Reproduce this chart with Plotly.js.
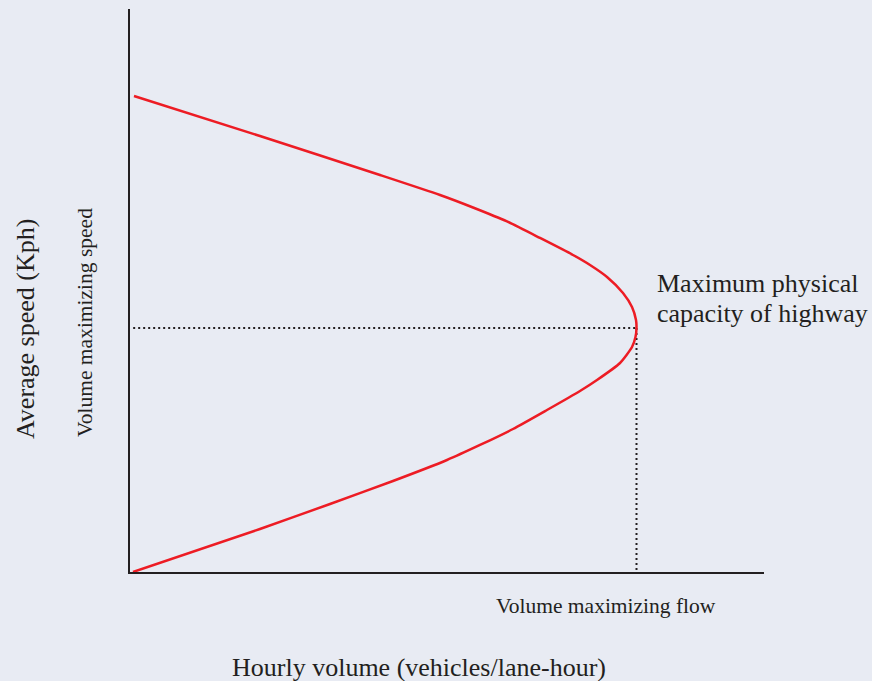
<!DOCTYPE html>
<html>
<head>
<meta charset="utf-8">
<script src="https://cdn.plot.ly/plotly-3.0.1.min.js"></script>
<style>
html,body{margin:0;padding:0;background:#e8ebf3;}
#chart{width:872px;height:681px;}
</style>
</head>
<body>
<div id="chart"></div>
<script>
// Speed-flow curve (volume on x, speed on y)
const volume = [0.63, 20.50, 39.43, 48.90, 54.10, 59.46, 64.67, 69.87, 72.56, 75.24, 77.76, 79.18, 79.81, 79.89,
                79.73, 79.18, 77.29, 73.66, 70.98, 65.77, 60.41, 55.21, 50.00, 41.48, 31.55, 20.50, 0.47];
const speed  = [84.55, 77.44, 70.52, 66.96, 64.74, 62.26, 59.33, 56.31, 54.53, 52.40, 49.56, 47.06, 44.76, 43.34,
                41.74, 39.96, 37.12, 34.10, 32.15, 28.77, 25.40, 22.56, 19.89, 16.16, 12.08, 7.64, 0.0];

// Capacity point (vertex)
const capVolume = 79.89;
const capSpeed = 43.34;
const guideStartVolume = 0.5;

const labels = {
  yTitle: "Average speed (Kph)",
  ySub: "Volume maximizing speed",
  xTitle: "Hourly volume (vehicles/lane-hour)",
  xSub: "Volume maximizing flow",
  cap1: "Maximum physical",
  cap2: "capacity of highway"
};

const ink = "#231f20";
const font = "Liberation Serif, DejaVu Serif, serif";

const traces = [
  {
    x: [guideStartVolume, capVolume], y: [capSpeed, capSpeed],
    mode: "lines", line: {color: ink, width: 2, dash: "2px,3px"},
    hoverinfo: "skip", cliponaxis: false
  },
  {
    x: [capVolume, capVolume], y: [capSpeed, 0],
    mode: "lines", line: {color: ink, width: 2, dash: "2px,3px"},
    hoverinfo: "skip", cliponaxis: false
  },
  {
    x: volume, y: speed,
    mode: "lines", line: {color: "#ed1c24", width: 2.5, shape: "spline", smoothing: 0.6},
    cliponaxis: false
  }
];

const layout = {
  width: 872, height: 681,
  margin: {l: 130, r: 108, t: 9, b: 109},
  paper_bgcolor: "#e8ebf3",
  plot_bgcolor: "#e8ebf3",
  showlegend: false,
  xaxis: {range: [0, 100], showgrid: false, zeroline: false, showticklabels: false, ticks: "",
          showline: true, linecolor: ink, linewidth: 2, fixedrange: true},
  yaxis: {range: [0, 100], showgrid: false, zeroline: false, showticklabels: false, ticks: "",
          showline: true, linecolor: ink, linewidth: 2, fixedrange: true},
  annotations: [
    {text: labels.cap1, xref: "paper", yref: "paper", x: (655-130)/634, y: (572-283)/563,
     xanchor: "left", yanchor: "middle", showarrow: false, font: {family: font, size: 26, color: ink}},
    {text: labels.cap2, xref: "paper", yref: "paper", x: (655-130)/634, y: (572-313)/563,
     xanchor: "left", yanchor: "middle", showarrow: false, font: {family: font, size: 26, color: ink}},
    {text: labels.xSub, xref: "paper", yref: "paper", x: (606-130)/634, y: (572-606)/563,
     xanchor: "center", yanchor: "middle", showarrow: false, font: {family: font, size: 21.5, color: ink}},
    {text: labels.xTitle, xref: "paper", yref: "paper", x: (419-130)/634, y: (572-667)/563,
     xanchor: "center", yanchor: "middle", showarrow: false, font: {family: font, size: 26, color: ink}},
    {text: labels.yTitle, xref: "paper", yref: "paper", x: (25-130)/634, y: (572-329)/563,
     xanchor: "center", yanchor: "middle", textangle: -90, showarrow: false, font: {family: font, size: 26, color: ink}},
    {text: labels.ySub, xref: "paper", yref: "paper", x: (85-130)/634, y: (572-323)/563,
     xanchor: "center", yanchor: "middle", textangle: -90, showarrow: false, font: {family: font, size: 21.5, color: ink}}
  ]
};

Plotly.newPlot("chart", traces, layout, {displayModeBar: false, staticPlot: true});
</script>
</body>
</html>
